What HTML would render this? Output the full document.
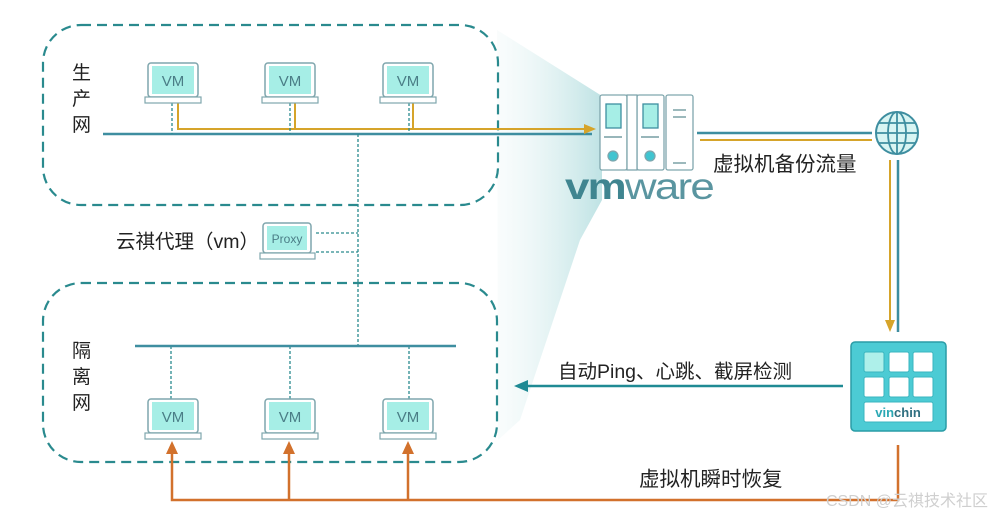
<!DOCTYPE html>
<html><head><meta charset="utf-8"><style>
html,body{margin:0;padding:0;background:#fff}
svg{display:block}
text{font-family:"Liberation Sans","Noto Sans CJK SC",sans-serif}
</style></head><body>
<svg width="1005" height="520" viewBox="0 0 1005 520" xmlns="http://www.w3.org/2000/svg">
<defs>
<linearGradient id="beam" x1="0" y1="0" x2="1" y2="0">
<stop offset="0" stop-color="#e4f3f3" stop-opacity="0.2"/>
<stop offset="1" stop-color="#a9d9db" stop-opacity="0.75"/>
</linearGradient>
<g id="vm">
<rect x="-25" y="0" width="50" height="34" rx="3" fill="#fff" stroke="#7fa6ad" stroke-width="1.5"/>
<rect x="-21" y="3" width="42" height="28" fill="#a6eee6"/>
<rect x="-28" y="34" width="56" height="6" fill="#fff" stroke="#7fa6ad" stroke-width="1.2"/>
<text x="0" y="23" text-anchor="middle" font-size="15" fill="#4a7d86">VM</text>
</g>
</defs>
<polygon points="497,30 602,96 602,200 580,240 520,420 498,440" fill="url(#beam)"/>
<rect x="43" y="25" width="455" height="180" rx="38" fill="none" stroke="#2a8a8e" stroke-width="2.2" stroke-dasharray="10,6"/>
<rect x="43" y="283" width="454" height="179" rx="38" fill="none" stroke="#2a8a8e" stroke-width="2.2" stroke-dasharray="10,6"/>
<g font-size="19" fill="#222">
<text x="72" y="79">生</text><text x="72" y="105">产</text><text x="72" y="131">网</text>
<text x="72" y="357">隔</text><text x="72" y="383">离</text><text x="72" y="409">网</text>
<text x="116" y="248" font-size="19.5">云祺代理（vm）</text>
<text x="713" y="171" font-size="20.5">虚拟机备份流量</text>
<text x="558" y="378" font-size="19.5">自动Ping、心跳、截屏检测</text>
<text x="639" y="486" font-size="20.5">虚拟机瞬时恢复</text>
</g>
<line x1="103" y1="134" x2="592" y2="134" stroke="#3e8ea0" stroke-width="2.5"/>
<polyline points="178,97 178,129 590,129" fill="none" stroke="#d6a42a" stroke-width="2"/>
<line x1="295" y1="97" x2="295" y2="129" stroke="#d6a42a" stroke-width="2"/>
<line x1="413" y1="97" x2="413" y2="129" stroke="#d6a42a" stroke-width="2"/>
<polygon points="584,124 596,129 584,134" fill="#d6a42a"/>
<g stroke="#2a8a8e" stroke-width="1.3" stroke-dasharray="3,2" fill="none">
<line x1="172" y1="103" x2="172" y2="134"/>
<line x1="290" y1="103" x2="290" y2="134"/>
<line x1="409" y1="103" x2="409" y2="134"/>
<line x1="358" y1="134" x2="358" y2="346"/>
<line x1="316" y1="233" x2="358" y2="233"/>
<line x1="316" y1="252" x2="358" y2="252"/>
<line x1="171" y1="346" x2="171" y2="399"/>
<line x1="290" y1="346" x2="290" y2="399"/>
<line x1="409" y1="346" x2="409" y2="399"/>
</g>
<use href="#vm" x="173" y="63"/><use href="#vm" x="290" y="63"/><use href="#vm" x="408" y="63"/>
<use href="#vm" x="173" y="399"/><use href="#vm" x="290" y="399"/><use href="#vm" x="408" y="399"/>
<rect x="263" y="223" width="48" height="30" rx="3" fill="#fff" stroke="#7fa6ad" stroke-width="1.5"/>
<rect x="267" y="226" width="40" height="24" fill="#a6eee6"/>
<rect x="260" y="253" width="55" height="6" fill="#fff" stroke="#7fa6ad" stroke-width="1.2"/>
<text x="287" y="243" text-anchor="middle" font-size="12" fill="#4a7d86">Proxy</text>
<line x1="135" y1="346" x2="456" y2="346" stroke="#3e8ea0" stroke-width="2.5"/>
<g fill="#fff" stroke="#7fa6ad" stroke-width="1.3">
<rect x="600" y="95" width="27" height="75" rx="2"/>
<rect x="637" y="95" width="27" height="75" rx="2"/>
<rect x="666" y="95" width="27" height="75" rx="2"/>
<rect x="627" y="95" width="10" height="75"/>
<rect x="606" y="104" width="15" height="24" fill="#a6eee6" stroke="#3e8ea0"/>
<rect x="643" y="104" width="15" height="24" fill="#a6eee6" stroke="#3e8ea0"/>
<circle cx="613" cy="156" r="5" fill="#40c4d0"/>
<circle cx="650" cy="156" r="5" fill="#40c4d0"/>
</g>
<g stroke="#5a8a90" stroke-width="1.2">
<line x1="604" y1="137" x2="622" y2="137"/><line x1="641" y1="137" x2="659" y2="137"/>
<line x1="673" y1="110" x2="686" y2="110"/><line x1="673" y1="117" x2="686" y2="117"/>
<line x1="673" y1="163" x2="686" y2="163"/>
</g>
<text x="565" y="199" font-size="37" fill="#5a95a0" letter-spacing="-1.5" textLength="148" lengthAdjust="spacingAndGlyphs"><tspan font-weight="bold" fill="#3f8590">vm</tspan>ware</text>
<line x1="697" y1="133" x2="872" y2="133" stroke="#3e8ea0" stroke-width="2.5"/>
<line x1="700" y1="140" x2="872" y2="140" stroke="#d6a42a" stroke-width="2"/>
<circle cx="897" cy="133" r="21" fill="#d8f5f3" stroke="#3e8ea0" stroke-width="2"/>
<g fill="none" stroke="#3e8ea0" stroke-width="1.8">
<ellipse cx="897" cy="133" rx="9" ry="21"/>
<line x1="897" y1="112" x2="897" y2="154"/>
<line x1="876" y1="133" x2="918" y2="133"/>
<line x1="879" y1="123" x2="915" y2="123"/>
<line x1="879" y1="143" x2="915" y2="143"/>
</g>
<line x1="890" y1="160" x2="890" y2="322" stroke="#d6a42a" stroke-width="2"/>
<polygon points="885,320 890,332 895,320" fill="#d6a42a"/>
<line x1="898" y1="160" x2="898" y2="332" stroke="#3e8ea0" stroke-width="2.5"/>
<rect x="851" y="342" width="95" height="89" rx="4" fill="#4ccbd4" stroke="#2a9ca6" stroke-width="1.5"/>
<g fill="#fff" stroke="#3ab5bf" stroke-width="1">
<rect x="864" y="352" width="20" height="20" rx="2" fill="#aef0ea"/>
<rect x="889" y="352" width="20" height="20" rx="2"/>
<rect x="913" y="352" width="20" height="20" rx="2"/>
<rect x="864" y="377" width="20" height="20" rx="2"/>
<rect x="889" y="377" width="20" height="20" rx="2"/>
<rect x="913" y="377" width="20" height="20" rx="2"/>
<rect x="864" y="402" width="69" height="20" rx="2"/>
</g>
<text x="898" y="417" text-anchor="middle" font-size="13" font-weight="bold" fill="#2aa8b4">vin<tspan fill="#2f6f80">chin</tspan></text>
<line x1="525" y1="386" x2="843" y2="386" stroke="#1f8a94" stroke-width="2.5"/>
<polygon points="514,386 528,380 528,392" fill="#1f8a94"/>
<polyline points="898,445 898,500 172,500 172,452" fill="none" stroke="#d2712c" stroke-width="2.5"/>
<line x1="289" y1="500" x2="289" y2="452" stroke="#d2712c" stroke-width="2.5"/>
<line x1="408" y1="500" x2="408" y2="452" stroke="#d2712c" stroke-width="2.5"/>
<polygon points="166,454 172,441 178,454" fill="#d2712c"/>
<polygon points="283,454 289,441 295,454" fill="#d2712c"/>
<polygon points="402,454 408,441 414,454" fill="#d2712c"/>
<text x="826" y="506" font-size="16" fill="#cfcfcf">CSDN @云祺技术社区</text>
</svg>
</body></html>
